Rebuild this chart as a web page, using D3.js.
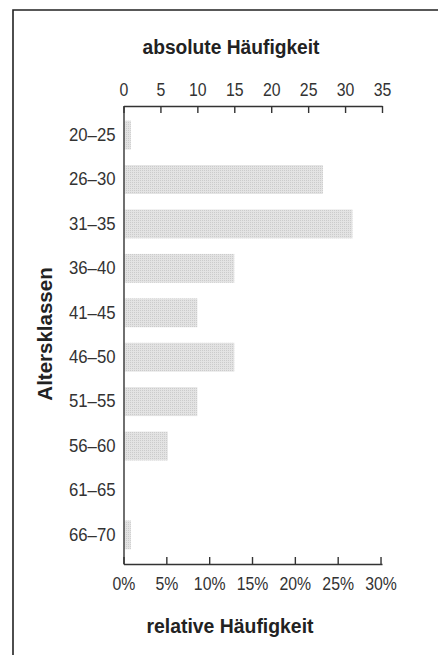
<!DOCTYPE html>
<html>
<head>
<meta charset="utf-8">
<script src="https://cdn.jsdelivr.net/npm/d3@7"></script>
<style>
  body { margin: 0; background: #fff; }
  svg { display: block; }
  text { font-family: "Liberation Sans", Arial, sans-serif; }
</style>
</head>
<body>
<div class="chart"></div>
<script>
var classes = ["20–25", "26–30", "31–35", "36–40", "41–45", "46–50", "51–55", "56–60", "61–65", "66–70"];
var counts = [1, 27, 31, 15, 10, 15, 10, 6, 0, 1];
var absTicks = [0, 5, 10, 15, 20, 25, 30, 35];
var relTicks = [0, 0.05, 0.10, 0.15, 0.20, 0.25, 0.30];

var total = d3.sum(counts);
var width = 438, height = 655;

var svg = d3.select(".chart").append("svg")
            .attr("width", width)
            .attr("height", height);

// halftone-like fill for the bars
var pat = svg.append("defs").append("pattern")
             .attr("id", "dots")
             .attr("width", 2).attr("height", 2)
             .attr("patternUnits", "userSpaceOnUse");
pat.append("rect").attr("width", 2).attr("height", 2).attr("fill", "#e3e3e3");
pat.append("rect").attr("width", 1).attr("height", 1).attr("fill", "#cbcbcb");

// frame (only top and left edges are visible in the scan)
svg.append("path")
   .attr("d", "M13,655V10H438")
   .attr("fill", "none")
   .attr("stroke", "#222")
   .attr("stroke-width", 1.6);

var x = d3.scaleLinear().domain([0, 35]).range([123.5, 382]);
// relative scale shares the pixel mapping of the absolute one
var xRel = d3.scaleLinear().domain([0, 35 / total]).range(x.range());

var y = d3.scaleBand().domain(classes).range([106, 564])
          .paddingInner(0.35).paddingOuter(0.33);

// bars
svg.selectAll("rect.bar").data(counts)
   .enter()
   .append("rect")
   .attr("class", "bar")
   .attr("x", x(0) + 1)
   .attr("y", function(d, i){ return y(classes[i]); })
   .attr("width", function(d){ return Math.max(0, x(d) - x(0) - 1); })
   .attr("height", y.bandwidth())
   .attr("fill", "url(#dots)");

// condensed look: squeeze the labels horizontally
function styleAxis(sx){
  return function(g){
    g.selectAll("path, line").attr("stroke", "#333").attr("stroke-width", 1.4);
    g.selectAll("text").attr("fill", "#333").attr("font-size", 18)
     .attr("font-family", "Liberation Sans, Arial, sans-serif")
     .attr("transform", "scale(" + sx + ",1)");
  };
}

// top axis: absolute counts
svg.append("g")
   .attr("transform", "translate(0,106)")
   .call(d3.axisTop(x).tickValues(absTicks).tickSizeInner(-7).tickSizeOuter(0).tickPadding(10))
   .call(styleAxis(0.88));

// bottom axis: relative share
svg.append("g")
   .attr("transform", "translate(0,564)")
   .call(d3.axisBottom(xRel).tickValues(relTicks).tickFormat(d3.format(".0%"))
           .tickSizeInner(-7).tickSizeOuter(0).tickPadding(13))
   .call(styleAxis(0.88));

// left axis: age classes
svg.append("g")
   .attr("transform", "translate(123.5,0)")
   .call(d3.axisLeft(y).tickSize(0).tickPadding(8 / 0.93))
   .call(styleAxis(0.93));

// titles
function title(tx, ty, rot, sx, size, label){
  svg.append("text")
     .attr("transform", "translate(" + tx + "," + ty + ") rotate(" + rot + ") scale(" + sx + ",1)")
     .attr("text-anchor", "middle")
     .attr("font-size", size).attr("font-weight", "bold").attr("fill", "#222")
     .text(label);
}
title(231, 54, 0, 0.96, 20, "absolute Häufigkeit");
title(230, 633, 0, 0.97, 20, "relative Häufigkeit");
title(52, 334, -90, 1, 20.5, "Altersklassen");
</script>
</body>
</html>
